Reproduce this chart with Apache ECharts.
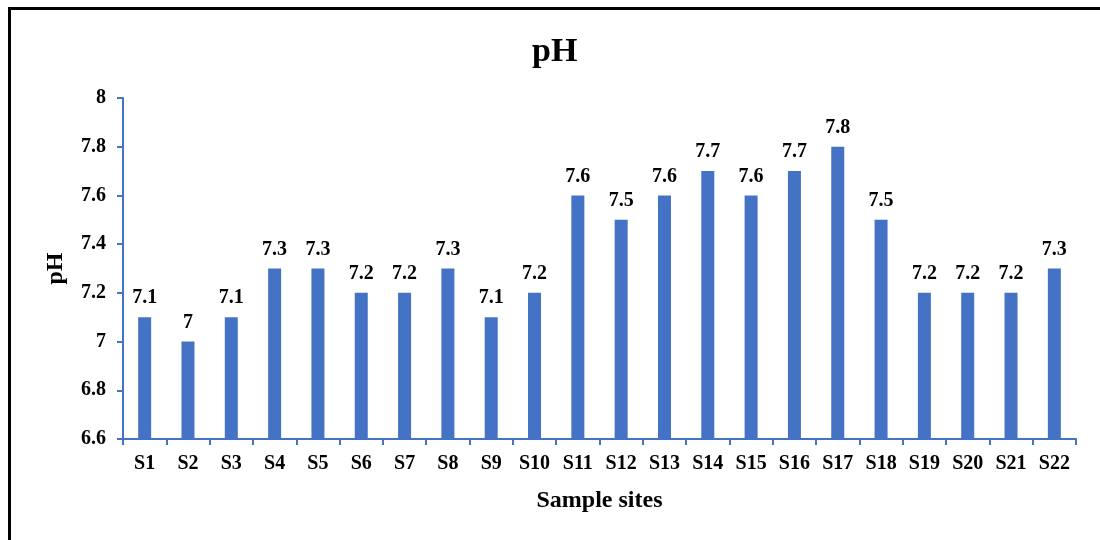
<!DOCTYPE html>
<html>
<head>
<meta charset="utf-8">
<script src="https://cdn.jsdelivr.net/npm/echarts@6/dist/echarts.min.js"></script>
<style>
  html, body { margin: 0; padding: 0; background: #fff; }
  #frame { position: absolute; left: 8px; top: 7px; width: 1092px; height: 533px;
           border-top: 3px solid #000; border-left: 3px solid #000; box-sizing: border-box; }
  #chart { position: absolute; left: 0; top: 0; width: 1100px; height: 540px; }
</style>
</head>
<body>
<div id="chart"></div>
<div id="frame"></div>
<script>
const categories = ['S1','S2','S3','S4','S5','S6','S7','S8','S9','S10','S11','S12','S13','S14','S15','S16','S17','S18','S19','S20','S21','S22'];
const phValues = [7.1, 7.0, 7.1, 7.3, 7.3, 7.2, 7.2, 7.3, 7.1, 7.2, 7.6, 7.5, 7.6, 7.7, 7.6, 7.7, 7.8, 7.5, 7.2, 7.2, 7.2, 7.3];
const yTicks = { min: 6.6, max: 8, interval: 0.2 };

const font = '"Liberation Serif", "Times New Roman", serif';
const blue = '#4472C4';
const chart = echarts.init(document.getElementById('chart'));
chart.setOption({
  animation: false,
  backgroundColor: 'transparent',
  title: {
    text: 'pH', left: 527, top: 30,
    textStyle: { fontFamily: font, fontWeight: 'bold', fontSize: 34, color: '#000' }
  },
  grid: { left: 123, right: 24, top: 98, bottom: 101 },
  xAxis: {
    type: 'category', data: categories,
    name: 'Sample sites', nameLocation: 'middle', nameGap: 50,
    nameTextStyle: { fontFamily: font, fontWeight: 'bold', fontSize: 24, color: '#000' },
    axisLine: { lineStyle: { color: blue, width: 2 } },
    axisTick: { show: true, length: 6, lineStyle: { color: blue, width: 2 } },
    axisLabel: { fontFamily: font, fontWeight: 'bold', fontSize: 20, color: '#000', margin: 15, interval: 0 }
  },
  yAxis: {
    type: 'value', min: yTicks.min, max: yTicks.max, interval: yTicks.interval,
    name: 'pH', nameLocation: 'middle', nameGap: 55, nameRotate: 90,
    nameTextStyle: { fontFamily: font, fontWeight: 'bold', fontSize: 24, color: '#000' },
    axisLine: { show: true, lineStyle: { color: blue, width: 2 } },
    axisTick: { show: true, length: 6, lineStyle: { color: blue, width: 2 } },
    splitLine: { show: false },
    axisLabel: {
      fontFamily: font, fontWeight: 'bold', fontSize: 20, color: '#000', margin: 17,
      formatter: v => String(parseFloat(v.toFixed(1)))
    }
  },
  series: [{
    type: 'bar', data: phValues, barWidth: 13,
    itemStyle: { color: blue },
    label: {
      show: true, position: 'top', distance: 9,
      fontFamily: font, fontWeight: 'bold', fontSize: 20, color: '#000',
      formatter: p => String(p.value)
    }
  }]
});
</script>
</body>
</html>
